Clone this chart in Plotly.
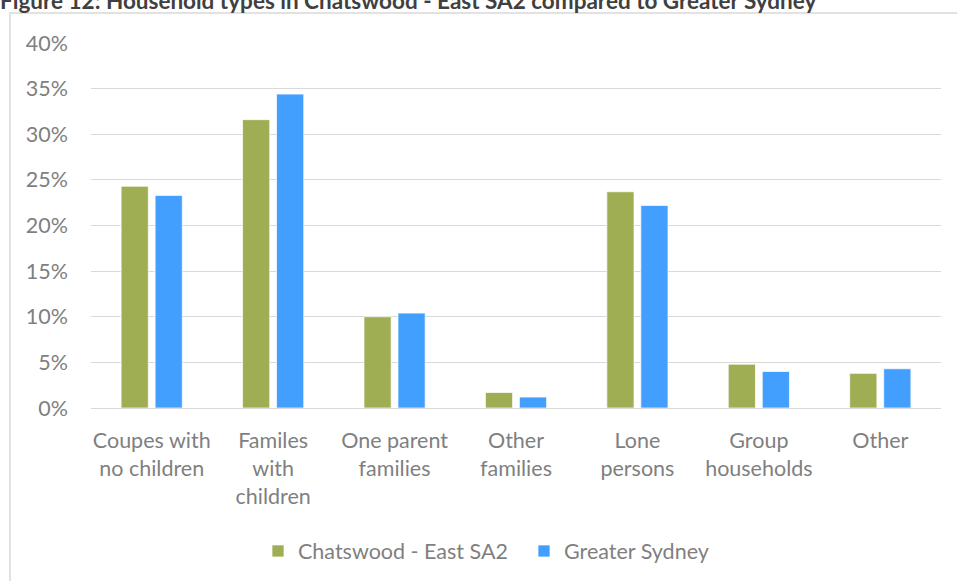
import plotly.graph_objects as go

categories = ["Coupes with<br>no children", "Familes<br>with<br>children", "One parent<br>families",
              "Other<br>families", "Lone<br>persons", "Group<br>households", "Other"]
chatswood = [0.243, 0.316, 0.100, 0.017, 0.237, 0.048, 0.038]
sydney = [0.233, 0.344, 0.104, 0.012, 0.222, 0.040, 0.043]
series_names = ["Chatswood - East SA2", "Greater Sydney"]
y_ticks = [0, 0.05, 0.10, 0.15, 0.20, 0.25, 0.30, 0.35, 0.40]
title_text = "Figure 12: Household types in Chatswood - East SA2 compared to Greater Sydney"

GREEN = "#A0AE53"
BLUE = "#439FFE"
TXT = "#7F7F7F"
FONT = "Lato"
FS = 21.5

W, H = 957, 581
L, R, T, B = 91, 16, 43, 173
pw, ph = W - L - R, H - T - B

def px_x(x):
    return (x - L) / pw

def px_y(y):
    return (H - B - y) / ph

fig = go.Figure()
fig.add_trace(go.Bar(x=categories, y=chatswood, name=series_names[0],
                     marker=dict(color=GREEN, line=dict(color="rgba(255,255,255,0.7)", width=1))))
fig.add_trace(go.Bar(x=categories, y=sydney, name=series_names[1],
                     marker=dict(color=BLUE, line=dict(color="rgba(255,255,255,0.7)", width=1))))

fig.update_layout(
    width=W, height=H,
    margin=dict(l=L, r=R, t=T, b=B, pad=0, autoexpand=False),
    paper_bgcolor="white", plot_bgcolor="white",
    barmode="group", bargap=0.44, bargroupgap=0.2,
    font=dict(family=FONT, color=TXT, size=FS),
    showlegend=True,
    legend=dict(orientation="h", x=px_x(258), xanchor="left", y=px_y(551), yanchor="middle",
                font=dict(family=FONT, size=FS, color=TXT), itemwidth=30,
                entrywidth=221, entrywidthmode="pixels",
                traceorder="normal", bgcolor="rgba(0,0,0,0)"),
    xaxis=dict(showgrid=False, showline=True, linecolor="#D9D9D9", linewidth=1,
               ticks="", tickfont=dict(family=FONT, size=FS, color=TXT), ticklabelstandoff=13),
    yaxis=dict(range=[0, 0.40], tickvals=y_ticks, tickformat=".0%", showgrid=True,
               gridcolor="#D9D9D9", gridwidth=1, zeroline=False, showline=False, ticks="",
               tickfont=dict(family=FONT, size=FS, color=TXT), ticklabelstandoff=22),
    shapes=[dict(type="rect", xref="paper", yref="paper",
                 x0=px_x(10), x1=px_x(W + 20), y0=px_y(H + 20), y1=px_y(13),
                 line=dict(color="#D9D9D9", width=1.5), fillcolor="rgba(0,0,0,0)", layer="below")],
    annotations=[dict(text="<b>" + title_text + "</b>", xref="paper", yref="paper",
                      x=px_x(-2), y=px_y(16), xanchor="left", yanchor="bottom", showarrow=False,
                      font=dict(family=FONT, size=22.5, color="#404040"))],
)

fig.write_html("out.html", config={"displayModeBar": False},
               post_script="document.body.style.margin='0';")
